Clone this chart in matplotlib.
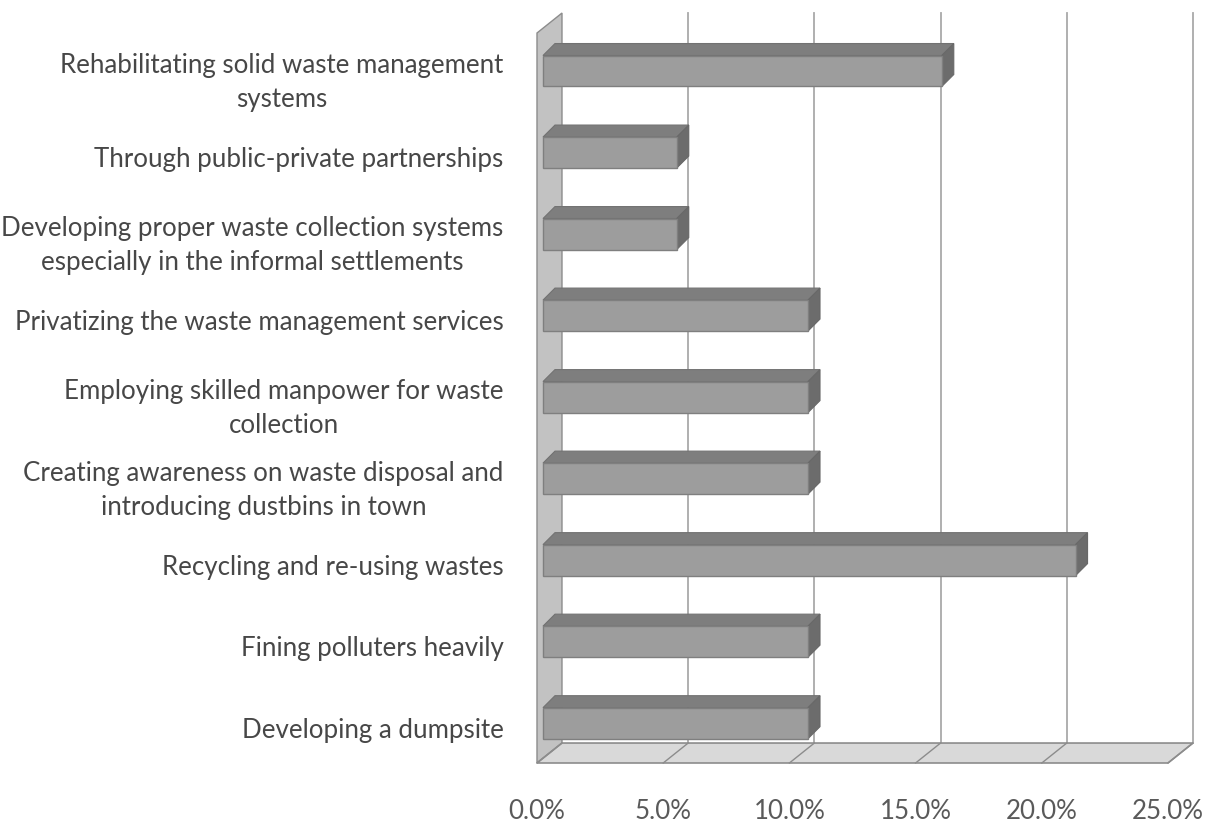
import numpy as np
import matplotlib.pyplot as plt
from matplotlib.patches import Polygon

plt.rcParams['font.family'] = ['Lato', 'DejaVu Sans']

# categories top to bottom, share of respondents (%)
categories = [
    "Rehabilitating solid waste management\nsystems",
    "Through public-private partnerships",
    "Developing proper waste collection systems\nespecially in the informal settlements",
    "Privatizing the waste management services",
    "Employing skilled manpower for waste\ncollection",
    "Creating awareness on waste disposal and\nintroducing dustbins in town",
    "Recycling and re-using wastes",
    "Fining polluters heavily",
    "Developing a dumpsite",
]
values = [15.8, 5.3, 5.3, 10.5, 10.5, 10.5, 21.1, 10.5, 10.5]
xticks = [0, 5, 10, 15, 20, 25]
xtick_labels = ["0.0%", "5.0%", "10.0%", "15.0%", "20.0%", "25.0%"]

# fake 3d: depth of the walls and of the bars, in data units
DX, DY = 0.99, -0.245
BX, BY = 0.24 * DX, 0.24 * DY
BDX, BDY = 0.475, -0.147
BAR_H = 0.38
Y_TOP, Y_FLOOR = -0.525, 8.43
XMAX = xticks[-1]

fig = plt.figure(figsize=(12.05, 8.22), dpi=100)
ax = fig.add_axes([537 / 1205, 59 / 822, 631 / 1205, 730 / 822])
ax.set_xlim(0, XMAX)
ax.set_ylim(Y_FLOOR, Y_TOP)

grid_c = '#a9a9a9'
wall_c = '#c2c2c2'
floor_c = '#d9d9d9'
edge_c = '#8c8c8c'

# back wall gridlines
for t in xticks[1:]:
    ax.plot([t + DX, t + DX], [Y_TOP + DY, Y_FLOOR + DY], color=grid_c,
            lw=1.3, zorder=1, clip_on=False)

# left wall
side = Polygon([(0, Y_TOP), (DX, Y_TOP + DY), (DX, Y_FLOOR + DY), (0, Y_FLOOR)],
               closed=True, facecolor=wall_c, edgecolor=edge_c, lw=1.0,
               zorder=2, clip_on=False)
ax.add_patch(side)

# floor with the gridlines running across it
floor = Polygon([(0, Y_FLOOR), (XMAX, Y_FLOOR), (XMAX + DX, Y_FLOOR + DY),
                 (DX, Y_FLOOR + DY)],
                closed=True, facecolor=floor_c, edgecolor=edge_c, lw=1.2,
                zorder=2, clip_on=False)
ax.add_patch(floor)
for t in xticks:
    ax.plot([t, t + DX], [Y_FLOOR, Y_FLOOR + DY], color=edge_c, lw=1.0,
            zorder=2.5, clip_on=False)

# bars: front face with barh, top and end faces as polygons
ypos = np.arange(len(categories))
ax.barh(ypos + BY, values, left=BX, height=BAR_H, color='#9d9d9d',
        edgecolor='#7f7f7f', linewidth=1.0, zorder=4)
for y, v in zip(ypos, values):
    yt = y + BY - BAR_H / 2
    yb = y + BY + BAR_H / 2
    xr = v + BX
    top = Polygon([(BX, yt), (xr, yt), (xr + BDX, yt + BDY), (BX + BDX, yt + BDY)],
                  closed=True, facecolor='#7e7e7e', edgecolor='#727272',
                  lw=0.8, zorder=3)
    end = Polygon([(xr, yt), (xr, yb), (xr + BDX, yb + BDY), (xr + BDX, yt + BDY)],
                  closed=True, facecolor='#6c6c6c', edgecolor='#686868',
                  lw=0.8, zorder=3)
    ax.add_patch(top)
    ax.add_patch(end)

ax.set_yticks(ypos)
ax.set_yticklabels(categories, fontsize=18.6, color='#474747')
for lbl in ax.get_yticklabels():
    lbl.set_multialignment('center')
    lbl.set_linespacing(1.45)
ax.set_xticks(xticks)
ax.set_xticklabels(xtick_labels, fontsize=18.6, color='#5a5a5a')
ax.tick_params(axis='y', length=0, pad=24)
ax.tick_params(axis='x', length=0, pad=26)

for s in ax.spines.values():
    s.set_visible(False)

fig.savefig('out.png', dpi=100, facecolor='white')
